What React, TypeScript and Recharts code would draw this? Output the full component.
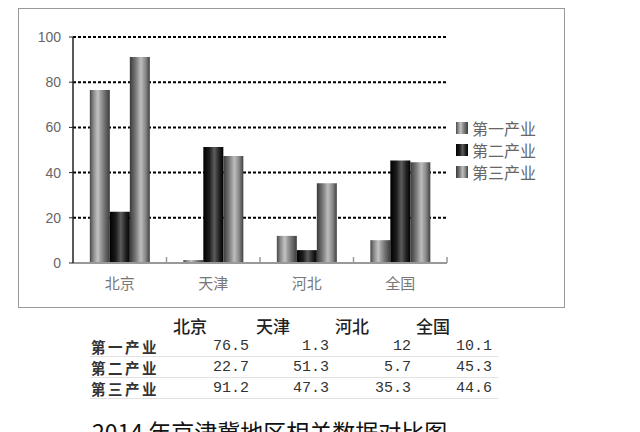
import React from 'react';
import { BarChart, Bar, XAxis, YAxis, CartesianGrid, Legend } from 'recharts';

const categories = ['北京', '天津', '河北', '全国'];
const seriesNames = ['第一产业', '第二产业', '第三产业'];
const primaryValues = [76.5, 1.3, 12, 10.1];
const secondaryValues = [22.7, 51.3, 5.7, 45.3];
const tertiaryValues = [91.2, 47.3, 35.3, 44.6];
const tableText = [
  ['76.5', '1.3', '12', '10.1'],
  ['22.7', '51.3', '5.7', '45.3'],
  ['91.2', '47.3', '35.3', '44.6'],
];
const yTicks = [0, 20, 40, 60, 80, 100];
const titleText = '2014 年京津冀地区相关数据对比图';

const seriesKeys = ['p', 's', 't'];
const gradIds = ['gradP', 'gradS', 'gradT'];

const data = categories.map((name, i) => ({
  name,
  p: primaryValues[i],
  s: secondaryValues[i],
  t: tertiaryValues[i],
}));

const PLOT_LEFT = 73;
const PLOT_RIGHT = 447;
const PLOT_TOP = 37;
const PLOT_BOTTOM = 263;
const CHART_W = 640;
const CHART_H = 310;
const X_AXIS_H = 30;
const BAND = (PLOT_RIGHT - PLOT_LEFT) / categories.length;

const cjk = '"Noto Sans CJK SC", "Noto Sans", sans-serif';

const XTick = (props: any) => {
  const { x, y, payload } = props;
  return (
    <g>
      <line x1={x + BAND / 2} x2={x + BAND / 2} y1={y - 6} y2={y} stroke="#999" strokeWidth={1.5} />
      <text x={x} y={y + 26} textAnchor="middle" fill="#777" fontSize={15} fontFamily={cjk}>
        {payload.value}
      </text>
    </g>
  );
};

const LegendContent = () => (
  <div style={{ display: 'flex', flexDirection: 'column' }}>
    {seriesNames.map((n, i) => (
      <div key={n} style={{ display: 'flex', alignItems: 'center', height: 22 }}>
        <svg width={12} height={12} style={{ marginRight: 4 }}>
          <rect x={0} y={0} width={12} height={12} fill={`url(#${gradIds[i]})`} />
        </svg>
        <span style={{ fontFamily: cjk, fontSize: 16, color: '#666', lineHeight: '22px' }}>{n}</span>
      </div>
    ))}
  </div>
);

const rowLabelTop = [336, 357, 378];
const valueRight = [249, 329, 411, 492];
const headerCenter = [190, 273, 352, 433];

export default function App() {
  return (
    <div style={{ position: 'absolute', left: 0, top: 0, width: 640, height: 432, background: '#fff', overflow: 'hidden' }}>
      <div
        style={{
          position: 'absolute',
          left: 18,
          top: 8,
          width: 547,
          height: 300,
          border: '1.5px solid #999',
          boxSizing: 'border-box',
        }}
      />
      <div style={{ position: 'absolute', left: 0, top: 0 }}>
        <BarChart
          width={CHART_W}
          height={CHART_H}
          data={data}
          margin={{ top: PLOT_TOP, right: CHART_W - PLOT_RIGHT, bottom: CHART_H - PLOT_BOTTOM - X_AXIS_H, left: 0 }}
          barCategoryGap="18%"
          barGap={0}
        >
          <defs>
            <linearGradient id="gradP" x1="0" y1="0" x2="1" y2="0">
              <stop offset="0" stopColor="#484848" />
              <stop offset="0.18" stopColor="#8a8a8a" />
              <stop offset="0.4" stopColor="#c4c4c4" />
              <stop offset="0.55" stopColor="#9a9a9a" />
              <stop offset="0.75" stopColor="#6e6e6e" />
              <stop offset="1" stopColor="#3c3c3c" />
            </linearGradient>
            <linearGradient id="gradS" x1="0" y1="0" x2="1" y2="0">
              <stop offset="0" stopColor="#000" />
              <stop offset="0.3" stopColor="#1c1c1c" />
              <stop offset="0.55" stopColor="#5c5c5c" />
              <stop offset="0.78" stopColor="#262626" />
              <stop offset="1" stopColor="#000" />
            </linearGradient>
            <linearGradient id="gradT" x1="0" y1="0" x2="1" y2="0">
              <stop offset="0" stopColor="#3a3a3a" />
              <stop offset="0.3" stopColor="#7a7a7a" />
              <stop offset="0.55" stopColor="#bdbdbd" />
              <stop offset="0.78" stopColor="#8a8a8a" />
              <stop offset="1" stopColor="#404040" />
            </linearGradient>
          </defs>
          <CartesianGrid vertical={false} stroke="#000" strokeDasharray="3 2" strokeWidth={2} />
          <XAxis
            dataKey="name"
            height={X_AXIS_H}
            axisLine={{ stroke: '#999', strokeWidth: 2 }}
            tickLine={false}
            tickSize={0}
            tickMargin={0}
            tick={<XTick />}
            interval={0}
          />
          <YAxis
            width={PLOT_LEFT}
            domain={[0, 100]}
            ticks={yTicks}
            interval={0}
            axisLine={{ stroke: '#222', strokeWidth: 1.5 }}
            tickLine={{ stroke: '#222' }}
            tickSize={4}
            tickMargin={8}
            tick={{ fill: '#666', fontSize: 14, fontFamily: '"Liberation Sans", sans-serif' }}
          />
          <Legend
            layout="vertical"
            align="center"
            verticalAlign="middle"
            content={<LegendContent />}
            wrapperStyle={{ position: 'absolute', left: 456, top: 117, width: 110 }}
          />
          {seriesKeys.map((k, i) => (
            <Bar key={k} dataKey={k} name={seriesNames[i]} fill={`url(#${gradIds[i]})`} isAnimationActive={false} />
          ))}
        </BarChart>
      </div>
      {categories.map((c, j) => (
        <div
          key={c}
          style={{
            position: 'absolute',
            left: headerCenter[j] - 30,
            width: 60,
            top: 315,
            height: 21,
            lineHeight: '21px',
            textAlign: 'center',
            fontFamily: cjk,
            fontSize: 17,
            fontWeight: 500,
            color: '#222',
          }}
        >
          {c}
        </div>
      ))}
      {seriesNames.map((n, r) => (
        <React.Fragment key={n}>
          <div
            style={{
              position: 'absolute',
              left: 91,
              top: rowLabelTop[r],
              height: 21,
              lineHeight: '21px',
              fontFamily: cjk,
              fontSize: 14.5,
              letterSpacing: 2.5,
              fontWeight: 700,
              color: '#333',
              whiteSpace: 'nowrap',
            }}
          >
            {n}
          </div>
          {tableText[r].map((v, j) => (
            <div
              key={j}
              style={{
                position: 'absolute',
                left: valueRight[j] - 60,
                width: 60,
                top: rowLabelTop[r],
                height: 21,
                lineHeight: '21px',
                textAlign: 'right',
                fontFamily: '"Liberation Mono", monospace',
                fontSize: 15,
                color: '#333',
              }}
            >
              {v}
            </div>
          ))}
          <div
            style={{
              position: 'absolute',
              left: 90,
              width: 408,
              top: rowLabelTop[r] + 20,
              height: 1,
              background: '#e2e2e2',
            }}
          />
        </React.Fragment>
      ))}
      <div
        style={{
          position: 'absolute',
          left: 92,
          top: 416,
          fontFamily: cjk,
          fontSize: 23,
          lineHeight: '30px',
          color: '#111',
          whiteSpace: 'nowrap',
        }}
      >
        {titleText}
      </div>
    </div>
  );
}
